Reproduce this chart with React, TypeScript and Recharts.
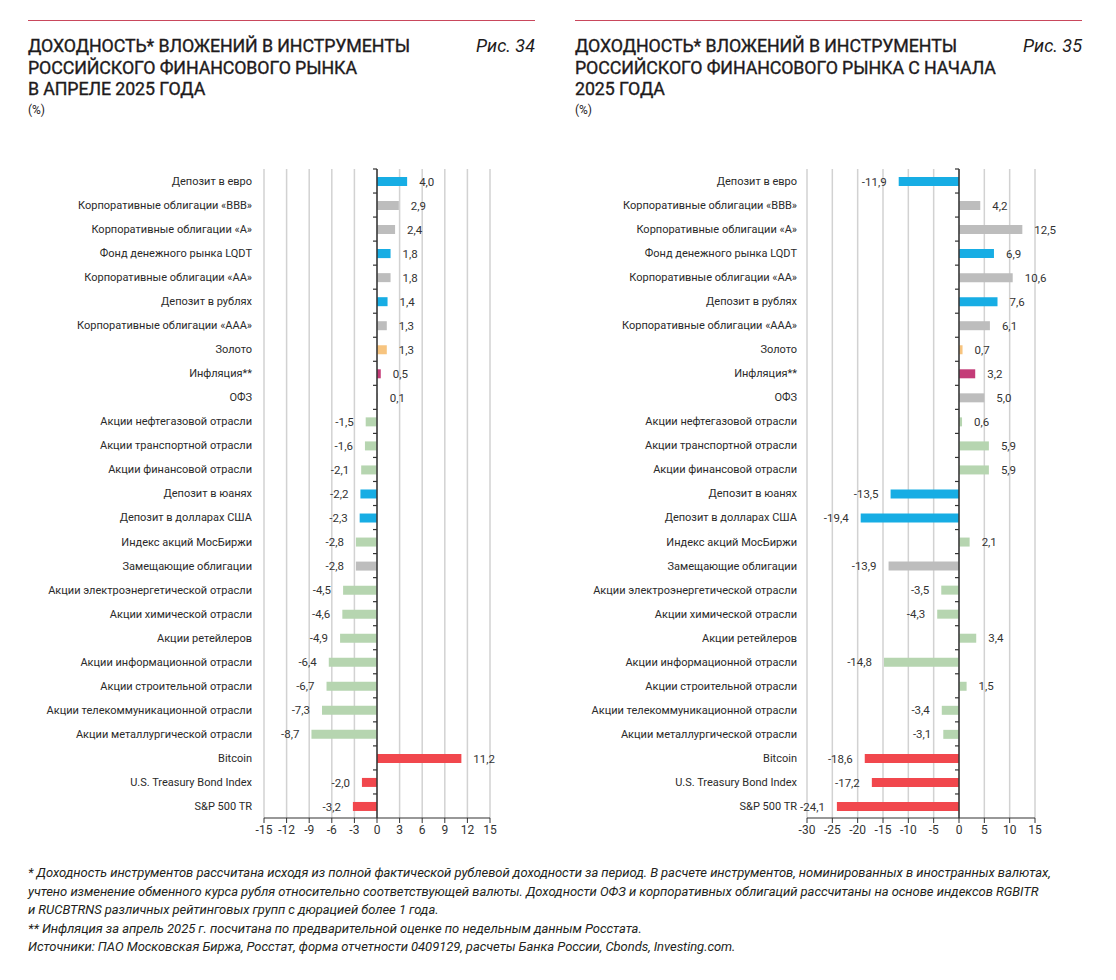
import React from 'react';
import { BarChart, Bar, XAxis, YAxis, CartesianGrid, Cell, LabelList, ReferenceLine } from 'recharts';

const categories = [
  'Депозит в евро',
  'Корпоративные облигации «BBB»',
  'Корпоративные облигации «A»',
  'Фонд денежного рынка LQDT',
  'Корпоративные облигации «AA»',
  'Депозит в рублях',
  'Корпоративные облигации «AAA»',
  'Золото',
  'Инфляция**',
  'ОФЗ',
  'Акции нефтегазовой отрасли',
  'Акции транспортной отрасли',
  'Акции финансовой отрасли',
  'Депозит в юанях',
  'Депозит в долларах США',
  'Индекс акций МосБиржи',
  'Замещающие облигации',
  'Акции электроэнергетической отрасли',
  'Акции химической отрасли',
  'Акции ретейлеров',
  'Акции информационной отрасли',
  'Акции строительной отрасли',
  'Акции телекоммуникационной отрасли',
  'Акции металлургической отрасли',
  'Bitcoin',
  'U.S. Treasury Bond Index',
  'S&P 500 TR',
];

const groups = [
  'deposit', 'bond', 'bond', 'deposit', 'bond', 'deposit', 'bond', 'gold', 'inflation', 'bond',
  'equity', 'equity', 'equity', 'deposit', 'deposit', 'equity', 'bond', 'equity', 'equity', 'equity',
  'equity', 'equity', 'equity', 'equity', 'foreign', 'foreign', 'foreign',
];

const aprilValues = [
  4.0, 2.9, 2.4, 1.8, 1.8, 1.4, 1.3, 1.3, 0.5, 0.1,
  -1.5, -1.6, -2.1, -2.2, -2.3, -2.8, -2.8, -4.5, -4.6, -4.9,
  -6.4, -6.7, -7.3, -8.7, 11.2, -2.0, -3.2,
];

const ytdValues = [
  -11.9, 4.2, 12.5, 6.9, 10.6, 7.6, 6.1, 0.7, 3.2, 5.0,
  0.6, 5.9, 5.9, -13.5, -19.4, 2.1, -13.9, -3.5, -4.3, 3.4,
  -14.8, 1.5, -3.4, -3.1, -18.6, -17.2, -24.1,
];

const aprilTicks = [-15, -12, -9, -6, -3, 0, 3, 6, 9, 12, 15];
const ytdTicks = [-30, -25, -20, -15, -10, -5, 0, 5, 10, 15];

const groupColors: Record<string, string> = {
  deposit: '#17ade4',
  bond: '#bdbdbd',
  gold: '#f7c47f',
  inflation: '#c43c78',
  equity: '#b6d5b0',
  foreign: '#f1474d',
};

const titleLeft = ['ДОХОДНОСТЬ* ВЛОЖЕНИЙ В ИНСТРУМЕНТЫ', 'РОССИЙСКОГО ФИНАНСОВОГО РЫНКА', 'В АПРЕЛЕ 2025 ГОДА'];
const titleRight = ['ДОХОДНОСТЬ* ВЛОЖЕНИЙ В ИНСТРУМЕНТЫ', 'РОССИЙСКОГО ФИНАНСОВОГО РЫНКА С НАЧАЛА', '2025 ГОДА'];

const footnotes = [
  '* Доходность инструментов рассчитана исходя из полной фактической рублевой доходности за период. В расчете инструментов, номинированных в иностранных валютах,',
  'учтено изменение обменного курса рубля относительно соответствующей валюты. Доходности ОФЗ и корпоративных облигаций рассчитаны на основе индексов RGBITR',
  'и RUCBTRNS различных рейтинговых групп с дюрацией более 1 года.',
  '** Инфляция за апрель 2025 г. посчитана по предварительной оценке по недельным данным Росстата.',
  'Источники: ПАО Московская Биржа, Росстат, форма отчетности 0409129, расчеты Банка России, Cbonds, Investing.com.',
];

const FONT = 'Roboto, "Noto Sans", sans-serif';

const fmt = (v: number) => v.toFixed(1).replace('.', ',');

const renderValueLabel = (props: any) => {
  const vb = props.viewBox || {};
  const x = Number(props.x ?? vb.x);
  const y = Number(props.y ?? vb.y);
  const w = Number(props.width ?? vb.width);
  const h = Number(props.height ?? vb.height);
  const value = Number(props.value);
  const xs = [x, x + w];
  const neg = value < 0;
  const end = neg ? Math.min(...xs) : Math.max(...xs);
  const tx = neg ? end - 12 : end + 12;
  return (
    <text
      x={tx}
      y={y + h / 2}
      dy="0.36em"
      textAnchor={neg ? 'end' : 'start'}
      fontSize={11.5}
      fill="#333"
      fontFamily={FONT}
    >
      {fmt(value)}
    </text>
  );
};

const CategoryTick = (props: any) => {
  const { x, y, payload } = props;
  return (
    <text x={x} y={y} dy="0.36em" textAnchor="end" fontSize={11} fill="#2a2a2a" fontFamily={FONT}>
      {payload.value}
    </text>
  );
};

const makeZeroAxis = (rows: number) => (props: any) => {
  const x = Number(props.x1);
  const top = Math.min(Number(props.y1), Number(props.y2));
  const bottom = Math.max(Number(props.y1), Number(props.y2));
  const step = (bottom - top) / rows;
  const marks = [];
  for (let i = 0; i < rows; i++) {
    const yy = top + i * step;
    marks.push(<line key={i} x1={x - 4} x2={x} y1={yy} y2={yy} stroke="#333" strokeWidth={1.2} />);
  }
  return (
    <g>
      <line x1={x} x2={x} y1={top} y2={bottom} stroke="#333" strokeWidth={1.5} />
      {marks}
    </g>
  );
};

type ChartProps = {
  values: number[];
  ticks: number[];
  left: number;
  width: number;
  yAxisWidth: number;
  marginRight: number;
  tickMargin: number;
};

const YieldChart = ({ values, ticks, left, width, yAxisWidth, marginRight, tickMargin }: ChartProps) => {
  const data = categories.map((name, i) => ({ name, value: values[i], group: groups[i] }));
  return (
    <div style={{ position: 'absolute', left, top: 150 }}>
      <BarChart
        width={width}
        height={700}
        data={data}
        layout="vertical"
        margin={{ top: 19, right: marginRight, bottom: 0, left: 0 }}
        barCategoryGap={0}
      >
        <CartesianGrid horizontal={false} vertical stroke="#d2d2d2" strokeWidth={1.5} />
        <XAxis
          type="number"
          domain={[ticks[0], ticks[ticks.length - 1]]}
          ticks={ticks}
          interval={0}
          allowDataOverflow
          height={32}
          axisLine={{ stroke: '#333', strokeWidth: 1.2 }}
          tickLine={{ stroke: '#333' }}
          tickSize={5}
          tick={{ fontSize: 12, fill: '#333', fontFamily: FONT }}
        />
        <YAxis
          type="category"
          dataKey="name"
          width={yAxisWidth}
          axisLine={false}
          tickLine={false}
          tickMargin={tickMargin}
          interval={0}
          tick={<CategoryTick />}
        />
        <Bar dataKey="value" barSize={9} isAnimationActive={false}>
          {data.map((d, i) => (
            <Cell key={i} fill={groupColors[d.group]} />
          ))}
          <LabelList dataKey="value" content={renderValueLabel} />
        </Bar>
        <ReferenceLine x={0} stroke="#333" shape={makeZeroAxis(categories.length)} />
      </BarChart>
    </div>
  );
};

const Header = ({ left, lines, fig }: { left: number; lines: string[]; fig: string }) => (
  <div style={{ position: 'absolute', left, top: 0, width: 507 }}>
    <div style={{ position: 'absolute', left: 0, top: 20, width: 507, height: 1, background: '#c9475c' }} />
    <div
      style={{
        position: 'absolute',
        left: 0,
        top: 35,
        fontFamily: FONT,
        fontWeight: 400,
        fontSize: 17.8,
        lineHeight: '21.5px',
        color: '#1e1b1c',
        whiteSpace: 'nowrap',
        letterSpacing: -0.1,
        WebkitTextStroke: '0.35px #1e1b1c',
      }}
    >
      {lines.map((l, i) => (
        <div key={i}>{l}</div>
      ))}
      <div style={{ fontSize: 12, lineHeight: '20px', WebkitTextStroke: '0px' }}>(%)</div>
    </div>
    <div
      style={{
        position: 'absolute',
        right: 0,
        top: 35,
        fontFamily: FONT,
        fontStyle: 'italic',
        fontSize: 18,
        lineHeight: '21.5px',
        color: '#1e1b1c',
        whiteSpace: 'nowrap',
      }}
    >
      {fig}
    </div>
  </div>
);

export default function App() {
  return (
    <div
      style={{
        position: 'absolute',
        left: 0,
        top: 0,
        width: 1116,
        height: 980,
        background: '#fff',
        overflow: 'hidden',
      }}
    >
      <Header left={28} lines={titleLeft} fig="Рис. 34" />
      <Header left={575} lines={titleRight} fig="Рис. 35" />
      <YieldChart values={aprilValues} ticks={aprilTicks} left={0} width={520} yAxisWidth={264} marginRight={30} tickMargin={6} />
      <YieldChart values={ytdValues} ticks={ytdTicks} left={545} width={535} yAxisWidth={262} marginRight={45} tickMargin={4} />
      <div
        style={{
          position: 'absolute',
          left: 28,
          top: 864,
          fontFamily: FONT,
          fontStyle: 'italic',
          fontSize: 13,
          lineHeight: '18.5px',
          color: '#231f20',
          whiteSpace: 'nowrap',
          letterSpacing: -0.05,
        }}
      >
        {footnotes.map((l, i) => (
          <div key={i}>{l}</div>
        ))}
      </div>
    </div>
  );
}
